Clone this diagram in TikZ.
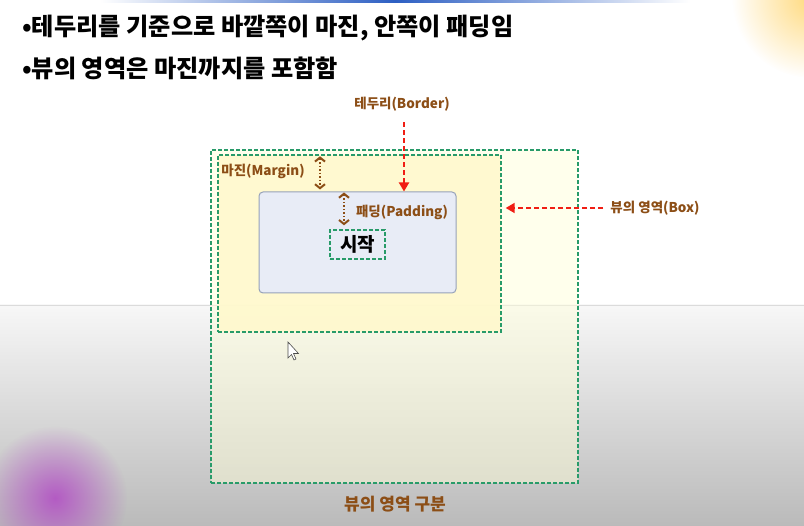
\documentclass[tikz,border=0pt]{standalone}
\usepackage{fontspec}
\setmainfont{Noto Sans CJK KR}
\usetikzlibrary{arrows.meta,fadings}
\tikzfading[name=softglow, inner color=transparent!0, outer color=transparent!100]
\definecolor{dgreen}{RGB}{40,155,105}
\definecolor{lbrown}{RGB}{140,78,22}
\definecolor{redar}{RGB}{240,30,20}
\definecolor{marginfill}{RGB}{255,249,205}
\definecolor{outerfill}{RGB}{255,255,215}
\definecolor{contentfill}{RGB}{232,236,246}
\definecolor{contentdraw}{RGB}{150,162,185}
\definecolor{barblue}{RGB}{45,95,195}
\definecolor{glowyellow}{RGB}{255,205,80}
\definecolor{blobpurple}{RGB}{178,80,196}
\tikzset{
  greenbox/.style={draw=dgreen, line width=1.4pt, dash pattern=on 4pt off 2pt, inner sep=0pt},
  lbl/.style={text=lbrown, font=\bfseries\fontsize{13.5}{15}\selectfont, inner sep=1pt},
  titletext/.style={anchor=west, font=\bfseries\fontsize{24.2}{27}\selectfont, inner sep=0pt},
  gaparrow/.style={draw=lbrown, line width=2pt, dash pattern=on 1.5pt off 2pt, {Straight Barb[length=4pt,width=10pt,line width=2pt,sep=0pt]}-{Straight Barb[length=4pt,width=10pt,line width=2pt]}},
  redarrow/.style={draw=redar, line width=1.8pt, dash pattern=on 5pt off 3pt, -{Triangle[length=9pt,width=10pt]}}
}
\begin{document}
\begin{tikzpicture}[x=1pt,y=-1pt]
\useasboundingbox (0,0) rectangle (804,526);
% background (screenshot)
\fill[white] (0,0) rectangle (804,305);
\shade[top color=black!3, bottom color=black!27] (0,305) rectangle (804,526);
\draw[black!14, line width=0.8pt] (0,305) -- (804,305);
\shade[left color=white, right color=white, middle color=barblue] (100,0) rectangle (690,2.5);
\fill[glowyellow, path fading=softglow, opacity=0.75] (812,-2) circle (80);
\fill[blobpurple, path fading=softglow, opacity=0.9] (55,498) circle (72);
% title
\node[titletext] (t1) at (22,28) {•테두리를 기준으로 바깥쪽이 마진, 안쪽이 패딩임};
\node[titletext] (t2) at (22,68) {•뷰의 영역은 마진까지를 포함함};
% boxes
\node[greenbox, fill=outerfill, fill opacity=0.45, minimum width=367pt, minimum height=333pt] (outer) at (394.5,316.5) {};
\node[greenbox, fill=marginfill, fill opacity=0.9, minimum width=283pt, minimum height=177pt] (margin) at (359.5,243.5) {};
\node[draw=contentdraw, line width=1pt, fill=contentfill, rounded corners=4pt, minimum width=197pt, minimum height=101pt] (content) at (357.5,242.5) {};
\node[greenbox, minimum width=55pt, minimum height=29pt, font=\bfseries\fontsize{19}{21}\selectfont] (start) at (357.5,244.5) {시작};
% labels
\node[lbl] (marginlbl) at (263,171) {마진(Margin)};
\node[lbl] (paddinglbl) at (402,212) {패딩(Padding)};
\node[lbl] (borderlbl) at (402,104) {테두리(Border)};
\node[lbl] (boxlbl) at (655,208) {뷰의 영역(Box)};
\node[lbl, font=\bfseries\fontsize{17}{19}\selectfont] (caption) at (395,504) {뷰의 영역 구분};
% gap arrows
\coordinate (mx) at (320,0);
\coordinate (px) at (344,0);
\coordinate (bx) at (404,0);
\draw[gaparrow, shorten <=2pt, shorten >=2pt] (margin.north -| mx) -- (content.north -| mx);
\draw[gaparrow, shorten <=1pt, shorten >=4pt] (content.north -| px) -- (start.north -| px);
% red arrows
\draw[redarrow] ([yshift=-10pt]borderlbl.south -| bx) -- (content.north -| bx);
\draw[redarrow] ([xshift=-6pt]boxlbl.west) -- ([xshift=4pt]margin.east |- boxlbl.west);
% mouse cursor
\draw[black!70, fill=white, line width=0.6pt] (288,342) -- (288,358) -- (291.5,354.5) -- (294,360) -- (296,359) -- (293.5,353.5) -- (298.5,353.5) -- cycle;
\end{tikzpicture}
\end{document}
